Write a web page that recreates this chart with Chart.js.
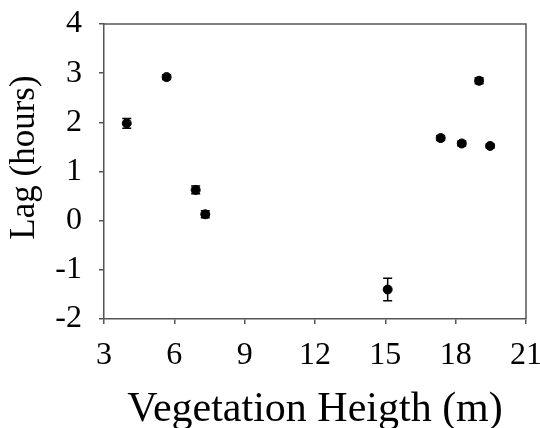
<!DOCTYPE html>
<html>
<head>
<meta charset="utf-8">
<script src="https://cdn.jsdelivr.net/npm/chart.js@4"></script>
<style>
html,body{margin:0;padding:0;background:#fff;}
#wrap{width:540px;height:428px;}
</style>
</head>
<body>
<div id="wrap"><canvas id="c" width="540" height="428"></canvas></div>
<script>
const heights = [3.97, 5.67, 6.91, 7.32, 15.1, 17.36, 18.26, 19.0, 19.47];
const lags    = [1.98, 2.92, 0.625, 0.13, -1.40, 1.68, 1.57, 2.845, 1.52];
const errors  = [0.10, 0.05, 0.08, 0.07, 0.23, 0.05, 0.05, 0.06, 0.04];
const xTicks = [3, 6, 9, 12, 15, 18, 21];
const yTicks = [-2, -1, 0, 1, 2, 3, 4];
const yTitle = 'Lag (hours)';
const xTitle = 'Vegetation Heigth (m)';

const axisColor = '#555';
const serif = '"Liberation Serif", "Times New Roman", serif';
const points = heights.map((h, i) => ({x: h, y: lags[i]}));

const errorBars = {
  id: 'errorBars',
  afterDatasetsDraw(chart) {
    const {ctx, scales: {x, y}} = chart;
    ctx.save();
    ctx.strokeStyle = '#000';
    ctx.lineWidth = 1.5;
    points.forEach((p, i) => {
      const px = x.getPixelForValue(p.x);
      const y1 = y.getPixelForValue(p.y + errors[i]);
      const y2 = y.getPixelForValue(p.y - errors[i]);
      ctx.beginPath();
      ctx.moveTo(px, y1); ctx.lineTo(px, y2);
      ctx.moveTo(px - 4.5, y1); ctx.lineTo(px + 4.5, y1);
      ctx.moveTo(px - 4.5, y2); ctx.lineTo(px + 4.5, y2);
      ctx.stroke();
    });
    ctx.restore();
  }
};

const frame = {
  id: 'frame',
  afterDraw(chart) {
    const {ctx, chartArea: a} = chart;
    ctx.save();
    ctx.strokeStyle = axisColor;
    ctx.lineWidth = 1.5;
    ctx.beginPath();
    ctx.moveTo(a.left, a.top); ctx.lineTo(a.right, a.top); ctx.lineTo(a.right, a.bottom);
    ctx.stroke();
    // y axis title, placed slightly above the axis centre as in the original
    ctx.fillStyle = '#000';
    ctx.font = '35px ' + serif;
    ctx.textAlign = 'center';
    ctx.textBaseline = 'middle';
    ctx.translate(25, (a.top + a.bottom) / 2 - 14);
    ctx.rotate(-Math.PI / 2);
    ctx.fillText(yTitle, 0, 0);
    ctx.restore();
  }
};

new Chart(document.getElementById('c'), {
  type: 'scatter',
  data: {
    datasets: [{
      data: points,
      backgroundColor: '#000',
      borderColor: '#000',
      pointRadius: 4.5,
      pointHoverRadius: 4.5
    }]
  },
  options: {
    responsive: false,
    animation: false,
    devicePixelRatio: 1,
    layout: {padding: 0},
    plugins: {legend: {display: false}, tooltip: {enabled: false}},
    scales: {
      x: {
        type: 'linear',
        min: 3, max: 21,
        afterBuildTicks(s) { s.ticks = xTicks.map(v => ({value: v})); },
        afterFit(s) { s.height = 109; s.paddingRight = 14; s.paddingLeft = 0; },
        grid: {drawOnChartArea: false, drawTicks: true, tickLength: 5, color: axisColor, lineWidth: 1.5},
        border: {display: true, color: axisColor, width: 1.5},
        ticks: {color: '#000', padding: 12, maxRotation: 0, font: {family: serif, size: 32}},
        title: {display: true, text: xTitle, color: '#000', padding: 0, font: {family: serif, size: 42, lineHeight: 0.86}}
      },
      y: {
        type: 'linear',
        min: -2, max: 4,
        afterBuildTicks(s) { s.ticks = yTicks.map(v => ({value: v})); },
        afterFit(s) { s.width = 104; s.paddingTop = 24; s.paddingBottom = 0; },
        grid: {drawOnChartArea: false, drawTicks: true, tickLength: 5, color: axisColor, lineWidth: 1.5},
        border: {display: true, color: axisColor, width: 1.5},
        ticks: {color: '#000', padding: 17, font: {family: serif, size: 32}},
        title: {display: false}
      }
    }
  },
  plugins: [errorBars, frame]
});
</script>
</body>
</html>
